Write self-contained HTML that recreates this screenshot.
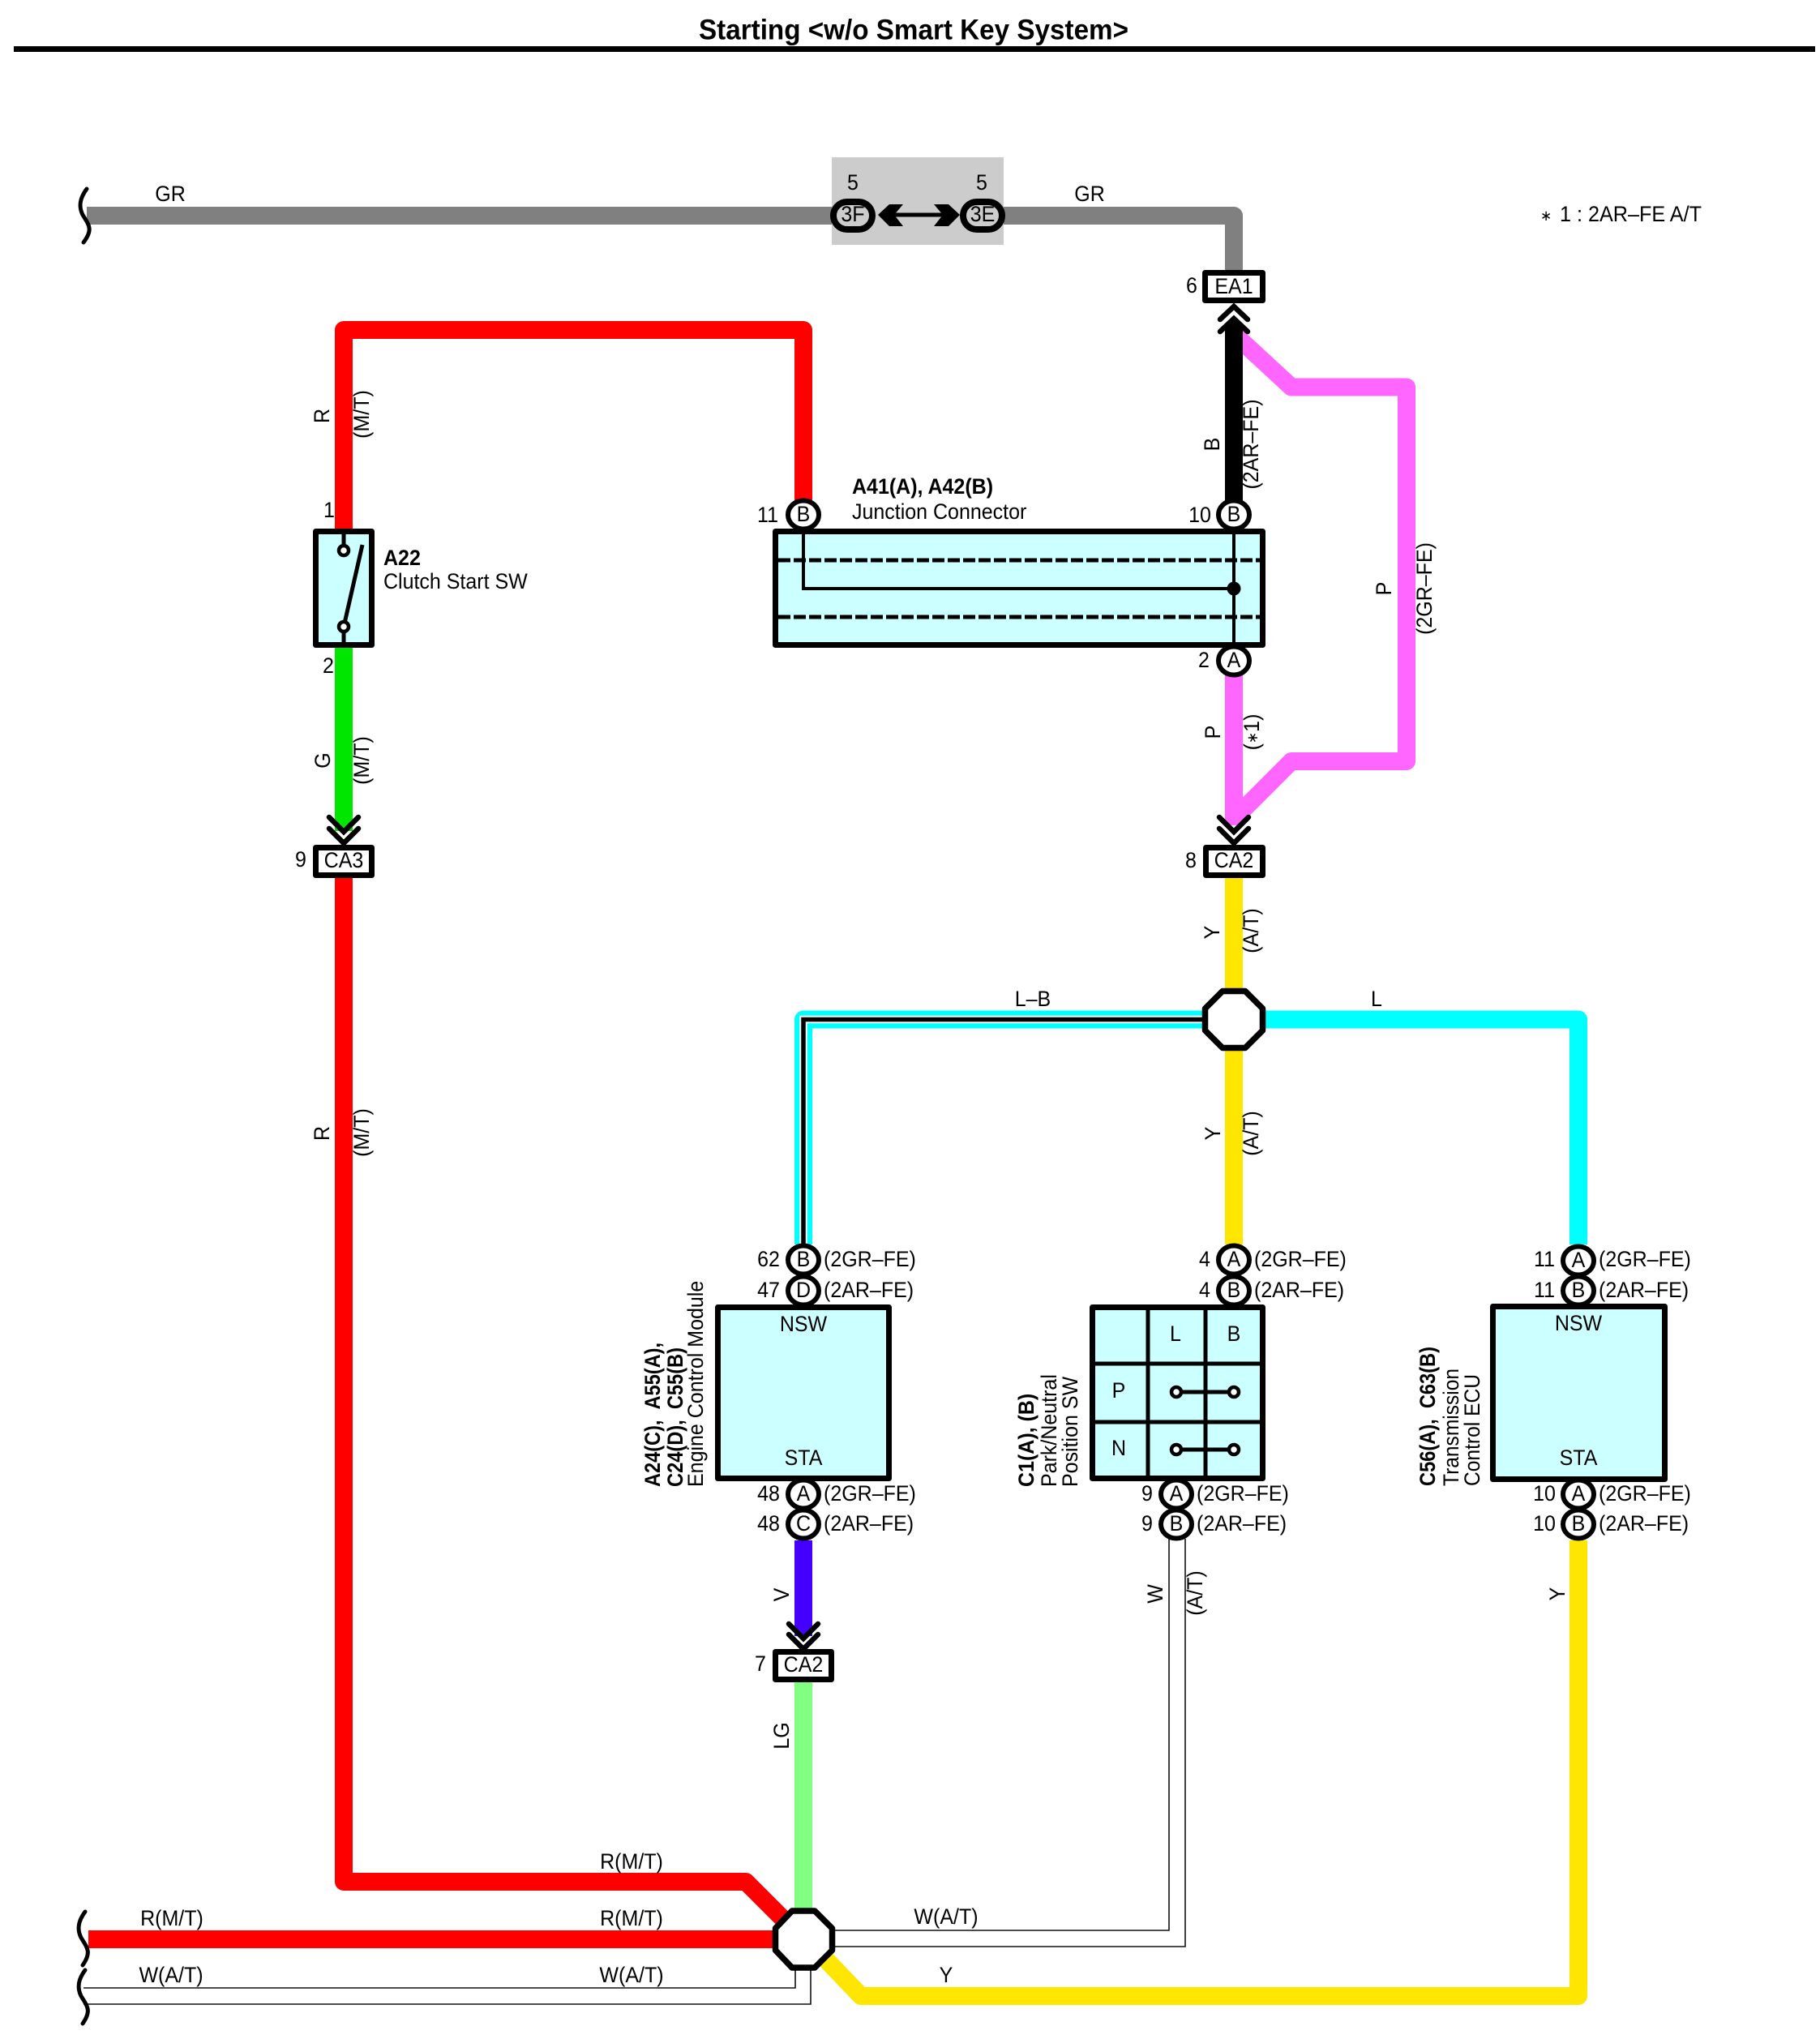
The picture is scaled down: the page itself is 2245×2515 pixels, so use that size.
<!DOCTYPE html>
<html>
<head>
<meta charset="utf-8">
<style>
html,body{margin:0;padding:0;background:#fff}
svg{display:block}
text{font-family:"Liberation Sans",sans-serif;font-size:25px;fill:#000;dominant-baseline:central}
text:not([transform]){transform-box:fill-box;transform-origin:center;transform:scaleY(1.06)}
.m{text-anchor:middle}
.b{font-weight:bold}
.w{fill:none;stroke-width:22;stroke-linejoin:round}
.k{fill:none;stroke:#000;stroke-width:6.5;stroke-linejoin:miter;stroke-linecap:round}
.t{fill:none;stroke:#000;stroke-width:5}
.box{fill:#ccffff;stroke:#000;stroke-width:7;stroke-linejoin:round}
.c{fill:#fff;stroke:#000;stroke-width:6}
.lab{fill:#fff;stroke:#000;stroke-width:7;stroke-linejoin:round}
.thin{fill:none;stroke:#111;stroke-width:1.6}
</style>
</head>
<body>
<svg xmlns="http://www.w3.org/2000/svg" width="2245" height="2515" viewBox="0 0 2245 2515">
<rect width="2245" height="2515" fill="#fff"/>

<!-- title -->
<text x="1127" y="37" class="m b" style="font-size:33px" textLength="530" lengthAdjust="spacingAndGlyphs">Starting &lt;w/o Smart Key System&gt;</text>
<rect x="17" y="57" width="2222" height="7" fill="#000"/>

<!-- grey connector block -->
<rect x="1026" y="194" width="212" height="108" fill="#ccc"/>

<!-- wires -->
<path class="w" stroke="#808080" d="M107 266H1026M1238 266H1522V335"/>
<path class="w" stroke="#ff0000" d="M424 655V407H991V618"/>
<path class="w" stroke="#00e600" d="M424 796V1025"/>
<path class="w" stroke="#ff0000" d="M424 1080V2321H920L970 2371"/>
<path class="w" stroke="#ff0000" d="M109 2392H955"/>
<path class="w" stroke="#ff66ff" d="M1522 832V1018"/>
<path class="w" stroke="#ff66ff" d="M1522 412L1593 477.5H1735V939H1593L1522 1010"/>
<path d="M1511 405L1522 391L1533 405V618H1511Z" fill="#000"/>
<path class="w" stroke="#ffe600" d="M1522 1080V1220M1522 1295V1535"/>
<path class="w" stroke="#00ffff" d="M1560 1257.5H1947V1535"/>
<path class="w" stroke="#00ffff" d="M1485 1257.5H991V1535"/>
<path fill="none" stroke="#fff" stroke-width="9.5" d="M1485 1257.5H991V1535"/>
<path fill="none" stroke="#000" stroke-width="5.5" d="M1485 1257.5H991V1535"/>
<path class="w" stroke="#4400ff" d="M991 1900V2018"/>
<path class="w" stroke="#80ff80" d="M991 2072V2356"/>
<path class="w" stroke="#ffe600" d="M1015 2413L1062 2462H1947V1900"/>

<!-- thin W wires -->
<path class="thin" d="M103 2452H981V2428M103 2472H1000V2428"/>
<path class="thin" d="M1028 2381H1442V1898M1028 2401H1462V1898"/>

<!-- wavy break marks -->
<g fill="none" stroke="#000" stroke-width="5" stroke-linecap="round">
<path d="M107 233C98 245 97 255 102 265C110 278 115 283 103 299"/>
<path d="M105 2358C96 2370 95 2380 100 2390C108 2403 113 2408 102 2424"/>
<path d="M105 2430C96 2442 95 2452 100 2462C108 2475 113 2480 102 2496"/>
</g>

<!-- 3F / 3E -->
<rect x="1028" y="249" width="48" height="34" rx="17" fill="#ccc" stroke="#000" stroke-width="8"/>
<rect x="1188" y="249" width="48" height="34" rx="17" fill="#ccc" stroke="#000" stroke-width="8"/>
<path d="M1100 265H1165" stroke="#000" stroke-width="5"/>
<path d="M1083 265L1097 252H1114L1103 265L1114 279H1097Z" fill="#000"/>
<path d="M1184 265L1170 252H1152L1163 265L1152 279H1170Z" fill="#000"/>
<text x="1052" y="265" class="m">3F</text>
<text x="1212" y="265" class="m">3E</text>
<text x="1052" y="226" class="m">5</text>
<text x="1211" y="226" class="m">5</text>
<text x="210" y="240" class="m">GR</text>
<text x="1344" y="240" class="m">GR</text>
<text x="1900" y="266" style="font-size:17px">∗</text>
<text x="1924" y="265" textLength="175" lengthAdjust="spacingAndGlyphs">1 : 2AR–FE A/T</text>

<!-- EA1 -->
<rect class="lab" x="1486.5" y="336.5" width="71" height="34"/>
<text x="1522" y="354" class="m">EA1</text>
<text x="1470" y="353" class="m">6</text>
<path class="k" d="M1505 394L1522 378L1539 394M1505 409L1522 393L1539 409"/>

<!-- A22 -->
<rect class="box" x="389.5" y="655.5" width="69" height="140"/>
<path class="t" d="M424 655V672M424 781V796M447 672L424 773"/>
<circle cx="424" cy="679" r="6" fill="#fff" stroke="#000" stroke-width="4.5"/>
<circle cx="424" cy="773" r="6" fill="#fff" stroke="#000" stroke-width="4.5"/>
<text x="406" y="630" class="m">1</text>
<text x="405" y="822" class="m">2</text>
<text x="473" y="689" class="b">A22</text>
<text x="473" y="718">Clutch Start SW</text>

<!-- CA3 -->
<path class="k" d="M406 1008L424 1026L442 1008M406 1022L424 1040L442 1022"/>
<rect class="lab" x="389.5" y="1045.5" width="69" height="34"/>
<text x="424" y="1062" class="m">CA3</text>
<text x="371" y="1061" class="m">9</text>

<!-- Junction connector -->
<ellipse class="c" cx="991" cy="635" rx="19" ry="17.5"/>
<ellipse class="c" cx="1522" cy="635" rx="19" ry="17.5"/>
<ellipse class="c" cx="1522" cy="815" rx="19" ry="17.5"/>
<rect class="box" x="956.5" y="655.5" width="601" height="140"/>
<path d="M960 691H1554M960 761H1554" stroke="#000" stroke-width="5" stroke-dasharray="15 4" fill="none"/>
<path d="M991 655V726H1522" fill="none" stroke="#000" stroke-width="4"/>
<path d="M1522 655V796" fill="none" stroke="#000" stroke-width="4"/>
<circle cx="1522" cy="726" r="8.5" fill="#000"/>
<text x="991" y="635" class="m">B</text>
<text x="1522" y="635" class="m">B</text>
<text x="1522" y="815" class="m">A</text>
<text x="947" y="636" class="m">11</text>
<text x="1480" y="636" class="m">10</text>
<text x="1485" y="815" class="m">2</text>
<text x="1051" y="601" class="b">A41(A), A42(B)</text>
<text x="1051" y="632">Junction Connector</text>

<!-- CA2 upper -->
<path class="k" d="M1504 1008L1522 1026L1540 1008M1504 1022L1522 1040L1540 1022"/>
<rect class="lab" x="1487.5" y="1045.5" width="70" height="34"/>
<text x="1522" y="1062" class="m">CA2</text>
<text x="1469" y="1062" class="m">8</text>

<!-- octagons -->
<path d="M1508 1222.5H1536L1557.5 1244V1271L1536 1292.5H1508L1486.5 1271V1244Z" fill="#fff" stroke="#000" stroke-width="7.5" stroke-linejoin="round"/>
<path d="M977 2357H1005L1026.5 2378.5V2405.5L1005 2427H977L956.5 2405.5V2378.5Z" fill="#fff" stroke="#000" stroke-width="7.5" stroke-linejoin="round"/>

<!-- ECM -->
<ellipse class="c" cx="991" cy="1554" rx="19" ry="17.5"/>
<ellipse class="c" cx="991" cy="1592" rx="19" ry="17.5"/>
<ellipse class="c" cx="991" cy="1843" rx="19" ry="17.5"/>
<ellipse class="c" cx="991" cy="1880" rx="19" ry="17.5"/>
<rect class="box" x="885.5" y="1612.5" width="211" height="211"/>
<text x="991" y="1634" class="m">NSW</text>
<text x="991" y="1799" class="m">STA</text>
<text x="991" y="1554" class="m">B</text>
<text x="991" y="1592" class="m">D</text>
<text x="991" y="1843" class="m">A</text>
<text x="991" y="1880" class="m">C</text>
<text x="948" y="1554" class="m">62</text>
<text x="948" y="1592" class="m">47</text>
<text x="948" y="1843" class="m">48</text>
<text x="948" y="1880" class="m">48</text>
<text x="1016" y="1554">(2GR–FE)</text>
<text x="1016" y="1592">(2AR–FE)</text>
<text x="1016" y="1843">(2GR–FE)</text>
<text x="1016" y="1880">(2AR–FE)</text>
<text transform="translate(806,1834) rotate(-90) scale(1,1.06)" class="b" textLength="178" lengthAdjust="spacingAndGlyphs">A24(C),&#160;&#160;A55(A),</text>
<text transform="translate(834,1834) rotate(-90) scale(1,1.06)" class="b" textLength="172" lengthAdjust="spacingAndGlyphs">C24(D),&#160;&#160;C55(B)</text>
<text transform="translate(859,1834) rotate(-90) scale(1,1.06)">Engine Control Module</text>

<!-- Park/Neutral -->
<ellipse class="c" cx="1522" cy="1554" rx="19" ry="17.5"/>
<ellipse class="c" cx="1522" cy="1592" rx="19" ry="17.5"/>
<ellipse class="c" cx="1451" cy="1843" rx="19" ry="17.5"/>
<ellipse class="c" cx="1451" cy="1880" rx="19" ry="17.5"/>
<rect class="box" x="1347.5" y="1612.5" width="210" height="211"/>
<path class="t" d="M1416 1612V1824M1487 1612V1824M1347 1682H1558M1347 1754H1558"/>
<path d="M1451 1717H1522M1451 1788H1522" stroke="#000" stroke-width="5"/>
<circle cx="1451" cy="1717" r="6" fill="#fff" stroke="#000" stroke-width="4.5"/>
<circle cx="1522" cy="1717" r="6" fill="#fff" stroke="#000" stroke-width="4.5"/>
<circle cx="1451" cy="1788" r="6" fill="#fff" stroke="#000" stroke-width="4.5"/>
<circle cx="1522" cy="1788" r="6" fill="#fff" stroke="#000" stroke-width="4.5"/>
<text x="1450" y="1646" class="m">L</text>
<text x="1522" y="1646" class="m">B</text>
<text x="1380" y="1716" class="m">P</text>
<text x="1380" y="1787" class="m">N</text>
<text x="1522" y="1554" class="m">A</text>
<text x="1522" y="1592" class="m">B</text>
<text x="1451" y="1843" class="m">A</text>
<text x="1451" y="1880" class="m">B</text>
<text x="1486" y="1554" class="m">4</text>
<text x="1486" y="1592" class="m">4</text>
<text x="1415" y="1843" class="m">9</text>
<text x="1415" y="1880" class="m">9</text>
<text x="1547" y="1554">(2GR–FE)</text>
<text x="1547" y="1592">(2AR–FE)</text>
<text x="1476" y="1843">(2GR–FE)</text>
<text x="1476" y="1880">(2AR–FE)</text>
<text transform="translate(1267,1834) rotate(-90) scale(1,1.06)" class="b">C1(A), (B)</text>
<text transform="translate(1295,1834) rotate(-90) scale(1,1.06)">Park/Neutral</text>
<text transform="translate(1321,1834) rotate(-90) scale(1,1.06)">Position SW</text>

<!-- TCM -->
<ellipse class="c" cx="1947" cy="1555" rx="19" ry="17.5"/>
<ellipse class="c" cx="1947" cy="1592" rx="19" ry="17.5"/>
<ellipse class="c" cx="1947" cy="1843" rx="19" ry="17.5"/>
<ellipse class="c" cx="1947" cy="1880" rx="19" ry="17.5"/>
<rect class="box" x="1841.5" y="1611.5" width="212" height="213"/>
<text x="1947" y="1633" class="m">NSW</text>
<text x="1947" y="1799" class="m">STA</text>
<text x="1947" y="1555" class="m">A</text>
<text x="1947" y="1592" class="m">B</text>
<text x="1947" y="1843" class="m">A</text>
<text x="1947" y="1880" class="m">B</text>
<text x="1905" y="1554" class="m">11</text>
<text x="1905" y="1592" class="m">11</text>
<text x="1905" y="1843" class="m">10</text>
<text x="1905" y="1880" class="m">10</text>
<text x="1972" y="1554">(2GR–FE)</text>
<text x="1972" y="1592">(2AR–FE)</text>
<text x="1972" y="1843">(2GR–FE)</text>
<text x="1972" y="1880">(2AR–FE)</text>
<text transform="translate(1762,1833) rotate(-90) scale(1,1.06)" class="b" textLength="172" lengthAdjust="spacingAndGlyphs">C56(A),&#160;&#160;C63(B)</text>
<text transform="translate(1791,1833) rotate(-90) scale(1,1.06)" textLength="145" lengthAdjust="spacingAndGlyphs">Transmission</text>
<text transform="translate(1817,1833) rotate(-90) scale(1,1.06)" textLength="138" lengthAdjust="spacingAndGlyphs">Control ECU</text>

<!-- CA2 lower -->
<path class="k" d="M973 2003L991 2021L1009 2003M973 2016L991 2034L1009 2016"/>
<rect class="lab" x="956.5" y="2037.5" width="69" height="34"/>
<text x="991" y="2054" class="m">CA2</text>
<text x="938" y="2053" class="m">7</text>

<!-- rotated wire labels -->
<g>
<text class="m" transform="translate(398,513) rotate(-90) scale(1,1.06)">R</text>
<text class="m" transform="translate(447,511) rotate(-90) scale(1,1.06)">(M/T)</text>
<text class="m" transform="translate(399,938) rotate(-90) scale(1,1.06)">G</text>
<text class="m" transform="translate(447,938) rotate(-90) scale(1,1.06)">(M/T)</text>
<text class="m" transform="translate(398,1398) rotate(-90) scale(1,1.06)">R</text>
<text class="m" transform="translate(447,1397) rotate(-90) scale(1,1.06)">(M/T)</text>
<text class="m" transform="translate(1496,548) rotate(-90) scale(1,1.06)">B</text>
<text class="m" transform="translate(1544,548) rotate(-90) scale(1,1.06)">(2AR–FE)</text>
<text class="m" transform="translate(1708,726) rotate(-90) scale(1,1.06)">P</text>
<text class="m" transform="translate(1758,726) rotate(-90) scale(1,1.06)">(2GR–FE)</text>
<text class="m" transform="translate(1497,903) rotate(-90) scale(1,1.06)">P</text>
<text class="m" transform="translate(1545,903) rotate(-90) scale(1,1.06)">(<tspan style="font-size:17px">∗</tspan>1)</text>
<text class="m" transform="translate(1496,1150) rotate(-90) scale(1,1.06)">Y</text>
<text class="m" transform="translate(1544,1148) rotate(-90) scale(1,1.06)">(A/T)</text>
<text class="m" transform="translate(1497,1398) rotate(-90) scale(1,1.06)">Y</text>
<text class="m" transform="translate(1544,1398) rotate(-90) scale(1,1.06)">(A/T)</text>
<text class="m" transform="translate(965,1967) rotate(-90) scale(1,1.06)">V</text>
<text class="m" transform="translate(965,2141) rotate(-90) scale(1,1.06)">LG</text>
<text class="m" transform="translate(1426,1966) rotate(-90) scale(1,1.06)">W</text>
<text class="m" transform="translate(1475,1965) rotate(-90) scale(1,1.06)">(A/T)</text>
<text class="m" transform="translate(1922,1966) rotate(-90) scale(1,1.06)">Y</text>
</g>

<!-- horizontal wire labels -->
<text x="1274" y="1233" class="m">L–B</text>
<text x="1698" y="1233" class="m">L</text>
<text x="779" y="2297" class="m">R(M/T)</text>
<text x="212" y="2367" class="m">R(M/T)</text>
<text x="779" y="2367" class="m">R(M/T)</text>
<text x="211" y="2437" class="m">W(A/T)</text>
<text x="779" y="2437" class="m">W(A/T)</text>
<text x="1167" y="2365" class="m">W(A/T)</text>
<text x="1167" y="2437" class="m">Y</text>
</svg>
</body>
</html>
